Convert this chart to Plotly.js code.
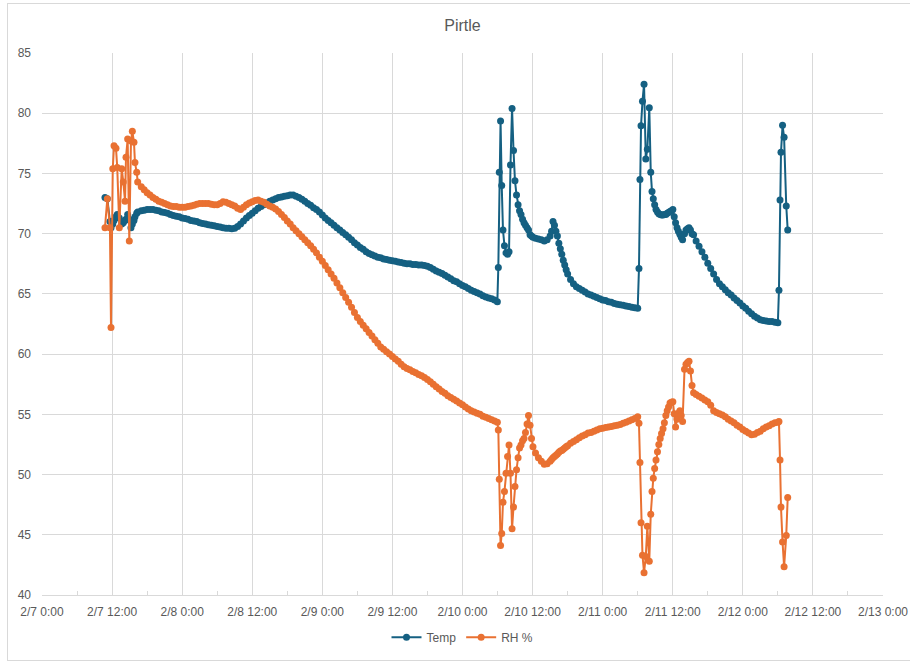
<!DOCTYPE html>
<html>
<head>
<meta charset="utf-8">
<script src="https://cdn.plot.ly/plotly-3.0.1.min.js"></script>
<style>
  html, body { margin: 0; padding: 0; background: #ffffff; overflow: hidden; }
  #chart { position: absolute; left: 0; top: 0; width: 910px; height: 664px; }
  #frame { position: absolute; left: 7px; top: 3px; width: 930px; height: 656px;
           border: 1px solid #d9d9d9; pointer-events: none; }
</style>
</head>
<body>
<div id="chart"></div>
<div id="frame"></div>
<script>
// ---- DATA ----
// hours after 2/7 0:00
const startDate = [2025, 1, 7]; // Feb 7 (year not shown on chart)

const hoursSpike1 = [10.79, 11.18, 11.64, 11.82, 12.11, 12.33, 12.67, 12.89, 13.24, 13.65, 13.92,
  14.21, 14.38, 14.67, 14.95, 15.24, 15.46, 15.75, 15.92, 16.22, 16.39];
const tempSpike1 = [73.0, 72.9, 71.0, 70.5, 70.8, 71.1, 71.4, 71.6, 71.3, 70.8, 70.9,
  71.1, 71.2, 71.6, 71.2, 70.5, 70.8, 71.1, 71.4, 71.7, 71.8];
const rhSpike1 = [70.5, 72.9, 70.5, 62.2, 75.4, 77.3, 77.1, 75.5, 70.5, 75.4, 74.3,
  72.7, 76.35, 77.85, 69.4, 77.7, 78.5, 77.6, 75.9, 75.1, 74.3];

const hoursDay1 = [17, 17.5, 18, 18.5, 19, 19.5, 20, 20.5, 21, 21.5, 22, 22.5, 23, 23.5, 24, 24.5,
  25, 25.5, 26, 26.5, 27, 27.5, 28, 28.5, 29, 29.5, 30, 30.5, 31, 31.5, 32, 32.5, 33, 33.5, 34, 34.5,
  35, 35.5, 36, 36.5, 37, 37.5, 38, 38.5, 39, 39.5];
const tempDay1 = [71.9, 71.95, 72.0, 72.0, 72.0, 71.95, 71.9, 71.8, 71.75, 71.7, 71.6, 71.5, 71.45, 71.4,
  71.3, 71.25, 71.2, 71.1, 71.05, 71.0, 70.9, 70.85, 70.8, 70.75, 70.7, 70.65, 70.6, 70.55, 70.5, 70.45,
  70.45, 70.4, 70.45, 70.6, 70.8, 71.05, 71.3, 71.5, 71.7, 71.9, 72.1, 72.25, 72.4, 72.55, 72.7, 72.8];
const rhDay1 = [73.9, 73.65, 73.4, 73.2, 73.0, 72.85, 72.7, 72.6, 72.5, 72.4, 72.3, 72.25, 72.25, 72.2,
  72.2, 72.2, 72.25, 72.3, 72.35, 72.45, 72.5, 72.5, 72.5, 72.5, 72.45, 72.4, 72.4, 72.5, 72.65, 72.6,
  72.5, 72.4, 72.3, 72.1, 72.0, 72.2, 72.4, 72.55, 72.65, 72.75, 72.8, 72.7, 72.6, 72.45, 72.3, 72.2];

const hoursDay2 = [40, 40.5, 41, 41.5, 42, 42.5, 43, 43.5, 44, 44.5, 45, 45.5, 46, 46.5, 47, 47.5, 48, 48.5,
  49, 49.5, 50, 50.5, 51, 51.5, 52, 52.5, 53, 53.5, 54, 54.5, 55, 55.5, 56, 56.5, 57, 57.5, 58, 58.5, 59, 59.5, 60];
const tempDay2 = [72.9, 73.0, 73.05, 73.1, 73.15, 73.2, 73.2, 73.1, 73.0, 72.85, 72.7, 72.5, 72.35, 72.15,
  72.0, 71.8, 71.55, 71.3, 71.1, 70.9, 70.7, 70.5, 70.3, 70.1, 69.9, 69.7, 69.5, 69.25, 69.05, 68.85, 68.7,
  68.5, 68.35, 68.25, 68.15, 68.05, 68.0, 67.9, 67.85, 67.8, 67.75];
const rhDay2 = [72.05, 71.85, 71.6, 71.35, 71.05, 70.8, 70.5, 70.25, 70.0, 69.75, 69.5, 69.25, 69.0, 68.7,
  68.4, 68.05, 67.7, 67.35, 67.0, 66.65, 66.3, 65.9, 65.5, 65.1, 64.7, 64.3, 63.9, 63.45, 63.05, 62.7, 62.4,
  62.1, 61.8, 61.5, 61.2, 60.9, 60.6, 60.4, 60.2, 60.0, 59.8];

const hoursDay3 = [60.5, 61, 61.5, 62, 62.5, 63, 63.5, 64, 64.5, 65, 65.5, 66, 66.5, 67, 67.5, 68, 68.5,
  69, 69.5, 70, 70.5, 71, 71.5, 72, 72.5, 73, 73.5, 74, 74.5, 75, 75.5, 76, 76.5, 77, 77.5];
const tempDay3 = [67.7, 67.65, 67.6, 67.55, 67.5, 67.5, 67.45, 67.45, 67.4, 67.4, 67.35, 67.3, 67.2,
  67.05, 66.9, 66.8, 66.7, 66.55, 66.4, 66.25, 66.1, 66.0, 65.85, 65.7, 65.6, 65.45, 65.3, 65.2, 65.1,
  65.0, 64.85, 64.75, 64.65, 64.6, 64.5];
const rhDay3 = [59.6, 59.4, 59.15, 58.95, 58.8, 58.7, 58.55, 58.45, 58.3, 58.2, 58.05, 57.9, 57.7, 57.5,
  57.3, 57.1, 56.9, 56.75, 56.55, 56.4, 56.25, 56.1, 55.95, 55.8, 55.6, 55.45, 55.3, 55.2, 55.1, 55.0,
  54.85, 54.75, 54.65, 54.55, 54.45];

const hoursSpike2 = [77.96, 78.13, 78.30, 78.51, 78.72, 78.94, 79.19, 79.45, 79.71, 79.96, 80.22, 80.48,
  80.73, 80.99, 81.25, 81.51, 81.76, 82.02, 82.28, 82.53, 82.79, 83.05, 83.30, 83.56, 83.82, 84.07];
const tempSpike2 = [64.35, 67.2, 75.1, 79.35, 74.0, 70.3, 69.0, 68.4, 68.3, 68.5, 75.7, 80.4, 76.9, 74.4,
  73.2, 72.4, 71.9, 71.6, 71.2, 70.9, 70.7, 70.5, 70.3, 69.9, 69.8, 69.7];
const rhSpike2 = [54.35, 53.7, 49.6, 44.1, 45.1, 47.7, 48.6, 50.1, 51.5, 52.45, 50.1, 45.5, 47.3, 49.0,
  50.4, 51.4, 52.2, 52.45, 52.8, 53.0, 53.5, 54.2, 54.9, 54.1, 53.0, 52.3];

const hoursDay4 = [84.5, 85, 85.5, 86, 86.5, 87, 87.25, 87.5, 87.75, 88, 88.25, 88.5, 88.75, 89, 89.25,
  89.5, 89.75, 90, 90.5, 91, 91.5, 92, 92.5, 93, 93.5, 94, 94.5, 95, 95.5, 96, 96.5, 97, 97.5, 98, 98.5,
  99, 99.5, 100, 100.5, 101, 101.5, 102];
const tempDay4 = [69.62, 69.55, 69.5, 69.4, 69.5, 69.8, 70.2, 71.0, 70.7, 70.2, 69.8, 69.2, 68.75, 68.3,
  67.8, 67.4, 67.0, 66.65, 66.2, 65.85, 65.6, 65.45, 65.3, 65.15, 65.0, 64.9, 64.8, 64.7, 64.6, 64.5,
  64.45, 64.35, 64.3, 64.2, 64.15, 64.1, 64.05, 64.0, 63.95, 63.9, 63.85, 63.8];
const rhDay4 = [51.8, 51.4, 51.1, 50.85, 50.9, 51.1, 51.25, 51.4, 51.5, 51.6, 51.7, 51.85, 51.95, 52.0,
  52.1, 52.2, 52.3, 52.4, 52.6, 52.75, 52.9, 53.05, 53.2, 53.3, 53.45, 53.5, 53.6, 53.7, 53.8, 53.85,
  53.9, 53.95, 54.0, 54.05, 54.1, 54.15, 54.25, 54.35, 54.45, 54.55, 54.65, 54.8];

const hoursSpike3 = [102.22, 102.39, 102.57, 102.82, 103.08, 103.39, 103.65, 103.99, 104.23, 104.45,
  104.67, 104.90, 105.14, 105.38, 105.62, 105.85, 106.09, 106.33, 106.57, 106.81, 107.05, 107.29, 107.53,
  107.77, 108.01, 108.25, 108.49, 108.73, 108.97, 109.21, 109.45, 109.69, 110.01, 110.27, 110.53, 110.79,
  111.04, 111.30, 111.56];
const tempSpike3 = [67.1, 74.5, 78.95, 81.0, 82.4, 76.2, 77.0, 80.45, 75.1, 73.5, 72.9, 72.4, 72.0, 71.8,
  71.65, 71.6, 71.55, 71.55, 71.6, 71.6, 71.7, 71.75, 71.85, 71.9, 72.0, 71.4, 70.9, 70.5, 70.2, 69.95,
  69.7, 69.5, 70.0, 70.3, 70.4, 70.5, 70.3, 70.0, 69.9];
const rhSpike3 = [54.25, 51.0, 46.0, 43.3, 41.85, 43.2, 45.7, 42.8, 46.7, 48.6, 49.7, 50.5, 51.2, 51.9,
  52.5, 53.0, 53.4, 53.8, 54.3, 54.9, 55.3, 55.6, 55.95, 56.0, 56.05, 55.05, 53.95, 54.6, 55.1, 55.3,
  54.9, 54.4, 58.75, 59.15, 59.3, 59.4, 58.6, 57.4, 56.8];

const hoursDay5 = [112, 112.5, 113, 113.5, 114, 114.5, 115, 115.5, 116, 116.5, 117, 117.5, 118, 118.5,
  119, 119.5, 120, 120.5, 121, 121.5, 122, 122.5, 123, 123.5, 124, 124.5, 125, 125.5, 126];
const tempDay5 = [69.4, 68.95, 68.5, 68.05, 67.55, 67.1, 66.65, 66.2, 65.85, 65.6, 65.35, 65.1, 64.9,
  64.65, 64.45, 64.25, 64.0, 63.8, 63.55, 63.35, 63.15, 63.0, 62.85, 62.8, 62.75, 62.7, 62.7, 62.65, 62.6];
const rhDay5 = [56.65, 56.5, 56.35, 56.2, 56.05, 55.75, 55.3, 55.15, 55.05, 54.95, 54.8, 54.6, 54.45,
  54.3, 54.1, 53.95, 53.75, 53.6, 53.45, 53.3, 53.35, 53.5, 53.6, 53.8, 53.95, 54.05, 54.2, 54.3, 54.35];

const hoursSpike4 = [126.18, 126.37, 126.54, 126.80, 127.07, 127.43, 127.69];
const tempSpike4 = [65.3, 72.8, 76.75, 79.0, 78.0, 72.3, 70.3];
const rhSpike4 = [54.4, 51.2, 47.3, 44.4, 42.35, 44.95, 48.1];

const seriesNames = ["Temp", "RH %"];
const chartTitle = "Pirtle";

// ---- build ----
const hours = [].concat(hoursSpike1, hoursDay1, hoursDay2, hoursDay3, hoursSpike2, hoursDay4,
  hoursSpike3, hoursDay5, hoursSpike4);
const temp = [].concat(tempSpike1, tempDay1, tempDay2, tempDay3, tempSpike2, tempDay4,
  tempSpike3, tempDay5, tempSpike4);
const rh = [].concat(rhSpike1, rhDay1, rhDay2, rhDay3, rhSpike2, rhDay4,
  rhSpike3, rhDay5, rhSpike4);

const base = Date.UTC(startDate[0], startDate[1], startDate[2]);
function toDateStr(ms) {
  return new Date(ms).toISOString().slice(0, 19).replace('T', ' ');
}
const times = hours.map(h => toDateStr(base + Math.round(h * 60) * 60000));
const rangeStart = toDateStr(base);
const rangeEnd = toDateStr(base + 6 * 24 * 3600000);

const fontNarrow = '"Liberation Sans Narrow", "Arial Narrow", "Liberation Sans", sans-serif';
const textColor = '#595959';
const gridColor = '#d9d9d9';

const traces = [
  {
    x: times, y: temp, name: seriesNames[0], type: 'scatter', mode: 'lines+markers',
    line: { color: '#156082', width: 2 },
    marker: { color: '#156082', size: 7 }
  },
  {
    x: times, y: rh, name: seriesNames[1], type: 'scatter', mode: 'lines+markers',
    line: { color: '#E97132', width: 2 },
    marker: { color: '#E97132', size: 7 }
  }
];

const layout = {
  width: 910, height: 664,
  margin: { l: 42, r: 27, t: 53, b: 62, pad: 0 },
  paper_bgcolor: '#ffffff', plot_bgcolor: '#ffffff',
  title: {
    text: chartTitle,
    font: { family: '"Liberation Sans", Arial, sans-serif', size: 16, color: textColor },
    xref: 'paper', x: 0.5, xanchor: 'center',
    yref: 'container', y: 0.962, yanchor: 'middle'
  },
  xaxis: {
    type: 'date',
    range: [rangeStart, rangeEnd],
    tick0: rangeStart,
    dtick: 12 * 3600000,
    tickformat: '%-m/%-d %-H:%M',
    showgrid: true, gridcolor: gridColor, gridwidth: 1,
    showline: true, linecolor: gridColor, linewidth: 1,
    ticks: '', ticklabelstandoff: 6,
    minor: { dtick: 6 * 3600000, ticks: 'inside', ticklen: 4, tickcolor: gridColor, showgrid: false },
    tickfont: { family: fontNarrow, size: 12, color: textColor },
    zeroline: false, fixedrange: true
  },
  yaxis: {
    range: [40, 85], dtick: 5, tick0: 40,
    showgrid: true, gridcolor: gridColor, gridwidth: 1,
    showline: false, zeroline: false, ticks: '', ticklabelstandoff: 10,
    tickfont: { family: fontNarrow, size: 12, color: textColor },
    fixedrange: true
  },
  showlegend: true,
  legend: {
    orientation: 'h', x: 0.5, xanchor: 'center', xref: 'paper',
    y: -0.078, yanchor: 'middle',
    font: { family: fontNarrow, size: 12, color: textColor },
    itemwidth: 30, bgcolor: 'rgba(0,0,0,0)'
  },
  hovermode: false
};

Plotly.newPlot('chart', traces, layout, { displayModeBar: false, staticPlot: true });
</script>
</body>
</html>
